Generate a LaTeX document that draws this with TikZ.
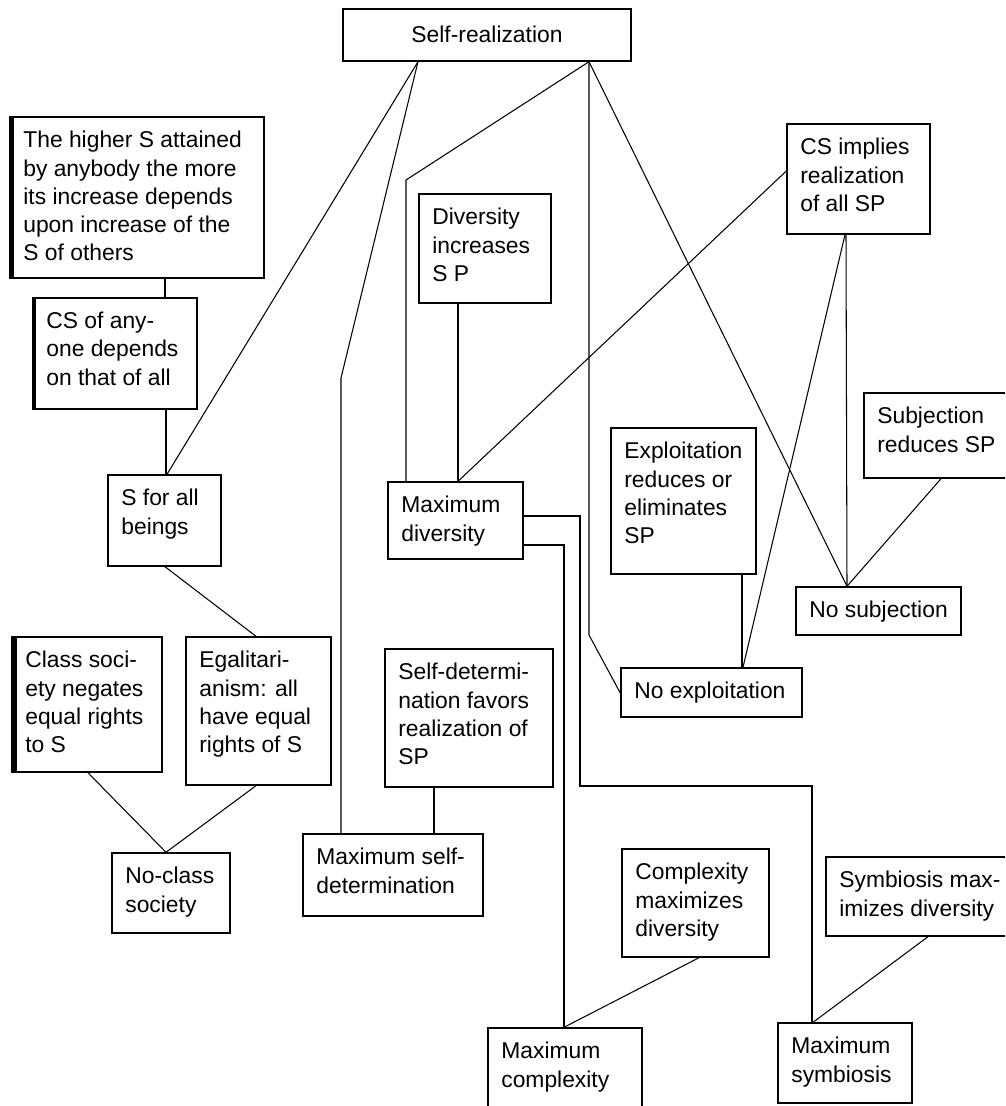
\documentclass[tikz,border=0pt]{standalone}
\usepackage{fontspec}
\setmainfont{Liberation Sans}
\newcommand\bx[6]{%
  \node[boxst, minimum width={(#4-#2)*0.02cm}, minimum height={(#5-#3)*0.02cm}] (#1) at ({(#2+#4)/2},{(#3+#5)/2}) {};
  \node[txtst, anchor=north west] (#1t) at ({#2+13},{#3+14}) {#6};}
\begin{document}
\begin{tikzpicture}[x=0.02cm,y=-0.02cm,
  boxst/.style={draw, line width=0.8pt, inner sep=0pt, rectangle},
  txtst/.style={inner sep=0pt, align=left, font=\fontsize{13}{16}\selectfont},
  conn/.style={draw, line width=0.6pt},
  bar/.style={line width=2.5pt}]
\useasboundingbox (0,0) rectangle (1005,1106);
\fill[white] (0,0) rectangle (1005,1106);
\clip (0,0) rectangle (1005,1106);

% top box
\node[boxst, minimum width={288*0.02cm}, minimum height={52*0.02cm}] (sr) at (487,35) {};
\node[txtst] (srt) at (487,34) {Self-realization};

% boxes
\bx{hi}{10}{117}{264}{278}{The higher S attained\\by anybody the more\\its increase depends\\upon increase of the\\S of others}
\bx{csa}{33}{298}{197}{409}{CS of any-\\one depends\\on that of all}
\bx{sfa}{108}{475}{221}{566}{S for all\\beings}
\bx{cls}{12}{637}{162}{772}{Class soci-\\ety negates\\equal rights\\to S}
\bx{ega}{186}{637}{331}{785}{Egalitari-\\anism: all\\have equal\\rights of S}
\bx{ncs}{112}{853}{230}{933}{No-class\\society}
\bx{msd}{303}{834}{483}{916}{Maximum self-\\determination}
\bx{sdf}{385}{649}{553}{787}{Self-determi-\\nation favors\\realization of\\SP}
\bx{mdiv}{388}{482}{523}{559}{Maximum\\diversity}
\bx{dis}{419}{194}{551}{303}{Diversity\\increases\\S P}
\bx{csi}{787}{124}{930}{234}{CS implies\\realization\\of all SP}
\bx{subj}{864}{393}{1020}{478}{Subjection\\reduces SP}
\bx{expl}{611}{428}{756}{574}{Exploitation\\reduces or\\eliminates\\SP}
\bx{nsub}{796}{587}{961}{635}{No subjection}
\bx{nexp}{621}{668}{802}{717}{No exploitation}
\bx{cmx}{622}{849}{769}{957}{Complexity\\maximizes\\diversity}
\bx{symb}{826}{857}{1020}{936}{Symbiosis max-\\imizes diversity}
\bx{mcx}{488}{1028}{642}{1120}{Maximum\\complexity}
\bx{msym}{778}{1023}{912}{1103}{Maximum\\symbiosis}

% thick left edges
\draw[bar] ([xshift=1.2pt]hi.north west) -- ([xshift=1.2pt]hi.south west);
\draw[bar] ([xshift=1pt]csa.north west) -- ([xshift=1pt]csa.south west);
\draw[line width=3.5pt] ([xshift=1.7pt]cls.north west) -- ([xshift=1.7pt]cls.south west);

% bend coordinates
\coordinate (b1) at (341,378);
\coordinate (b2) at (406,180);
\coordinate (b3) at (589,635);
\coordinate (b4) at (580,516);
\coordinate (b5) at (580,786);
\coordinate (b6) at (812,786);
\coordinate (b7) at (564,545);

% connectors
\path[conn] (sr.south -| 418,0) -- (sfa.north -| 167,0);
\path[conn] (sr.south -| 418,0) -- (b1) -- (msd.north -| 341,0);
\path[conn] (sr.south -| 589,0) -- (b2) -- (mdiv.north -| 406,0);
\path[conn] (sr.south -| 589,0) -- (b3) -- (nexp.west |- 0,693);
\path[conn] (sr.south -| 589,0) -- (nsub.north -| 847,0);
\path[conn] (csi.west |- 0,171) -- (mdiv.north -| 458,0);
\path[conn] (dis.south -| 458,0) -- (mdiv.north -| 458,0);
\path[conn] (csi.south -| 845,0) -- (nexp.north -| 743,0);
\path[conn] (csi.south -| 846,0) -- (nsub.north -| 847,0);
\path[conn] (subj.south -| 941,0) -- (nsub.north -| 847,0);
\path[conn] (expl.south -| 742,0) -- (nexp.north -| 742,0);
\path[conn] (mdiv.east |- 0,516) -- (b4) -- (b5) -- (b6) -- (msym.north -| 812,0);
\path[conn] (mdiv.east |- 0,545) -- (b7) -- (mcx.north -| 564,0);
\path[conn] (cmx.south -| 699,0) -- (mcx.north -| 564,0);
\path[conn] (symb.south -| 928,0) -- (msym.north -| 813,0);
\path[conn] (sdf.south -| 434,0) -- (msd.north -| 434,0);
\path[conn] (hi.south -| 165,0) -- (csa.north -| 165,0);
\path[conn] (csa.south -| 166,0) -- (sfa.north -| 166,0);
\path[conn] (sfa.south -| 165,0) -- (ega.north -| 256,0);
\path[conn] (cls.south -| 88,0) -- (ncs.north -| 166,0);
\path[conn] (ega.south -| 256,0) -- (ncs.north -| 166,0);
\end{tikzpicture}
\end{document}
